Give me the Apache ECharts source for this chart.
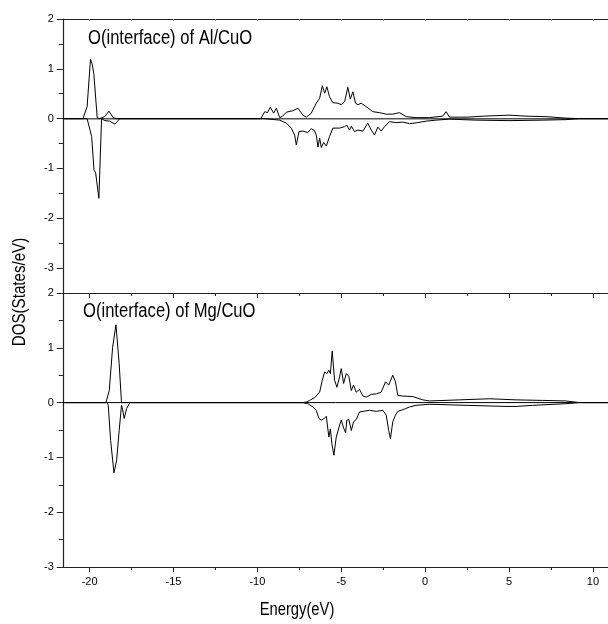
<!DOCTYPE html>
<html>
<head>
<meta charset="utf-8">
<script src="https://cdn.jsdelivr.net/npm/echarts@6/dist/echarts.min.js"></script>
<style>html,body{margin:0;padding:0;background:#fff}#c{width:608px;height:624px}</style>
</head>
<body>
<div id="c"></div>
<script>
// ---- Data ----
var xTickLabels = [-20, -15, -10, -5, 0, 5, 10];
var xMinorTicks = [-17.5, -12.5, -7.5, -2.5, 2.5, 7.5];
var yTickLabels = [-3, -2, -1, 0, 1, 2];
var yMinorTicks = [-2.5, -1.5, -0.5, 0.5, 1.5];

var alUpE = [-21.6,-20.4,-20.15,-19.95,-19.85,-19.75,-19.55,-19.4,-19.1,-18.85,-18.6,-18.4,-9.8,-9.56,-9.4,-9.23,-9.03,-8.87,-8.67,-8.5,-8.27,-7.88,-7.58,-7.29,-7.08,-6.79,-6.49,-6.29,-6.13,-5.99,-5.86,-5.7,-5.5,-5.2,-5.0,-4.8,-4.61,-4.46,-4.31,-4.15,-4.01,-3.81,-3.51,-3.12,-2.72,-2.32,-1.93,-1.53,-1.13,-0.54,0.26,1.05,1.25,1.45,2.5,3.5,5.0,6.0,7.2,8.39,9.2,10.9];
var alUpV = [0,0,0.24,1.19,1.1,0.9,0.02,0,0.04,0.15,0.02,0,0,0.14,0.12,0.23,0.11,0.21,0.02,0.05,0.13,0.16,0.21,0.07,0.03,0.11,0.31,0.41,0.66,0.51,0.64,0.44,0.32,0.31,0.28,0.34,0.63,0.39,0.54,0.31,0.28,0.31,0.24,0.14,0.12,0.09,0.09,0.12,0.04,0.02,0.02,0.05,0.14,0.03,0.03,0.05,0.07,0.05,0.04,0.01,0,0];

var alDownE = [-21.6,-20.15,-19.88,-19.74,-19.64,-19.58,-19.45,-19.29,-19.09,-18.8,-18.49,-18.2,-9.6,-8.67,-8.27,-7.98,-7.78,-7.68,-7.52,-7.29,-7.0,-6.79,-6.6,-6.49,-6.39,-6.29,-6.19,-6.05,-5.89,-5.7,-5.5,-5.1,-4.8,-4.67,-4.51,-4.4,-4.21,-4.01,-3.71,-3.42,-3.21,-3.02,-2.82,-2.62,-2.42,-2.13,-1.73,-1.33,-0.93,-0.44,0.06,0.65,1.45,3.0,5.0,7.0,8.4,9.2,10.9];
var alDownV = [0,0,-0.36,-1.03,-1.09,-1.06,-1.6,0,-0.04,-0.05,-0.11,0,0,-0.03,-0.09,-0.19,-0.33,-0.53,-0.26,-0.25,-0.28,-0.2,-0.24,-0.33,-0.57,-0.39,-0.58,-0.48,-0.55,-0.36,-0.19,-0.19,-0.16,-0.13,-0.23,-0.15,-0.26,-0.23,-0.25,-0.09,-0.23,-0.33,-0.17,-0.25,-0.16,-0.06,-0.08,-0.07,-0.1,-0.08,-0.05,-0.03,-0.01,-0.03,-0.04,-0.03,-0.02,0,0];

var mgUpE = [-21.6,-19.03,-18.83,-18.63,-18.43,-18.24,-18.1,-7.3,-7.08,-6.89,-6.59,-6.29,-6.13,-5.99,-5.86,-5.74,-5.65,-5.54,-5.4,-5.26,-5.1,-5.0,-4.86,-4.7,-4.55,-4.4,-4.27,-4.11,-3.91,-3.71,-3.51,-3.21,-2.92,-2.62,-2.36,-2.17,-1.93,-1.77,-1.63,-1.33,-0.74,-0.14,0.26,2.04,3.83,5.42,7.0,8.39,9.18,10.9];
var mgUpV = [0,0,0.22,1.01,1.42,0.71,0,0,0.01,0.04,0.09,0.19,0.41,0.56,0.53,0.59,0.53,0.94,0.41,0.28,0.47,0.62,0.35,0.53,0.48,0.22,0.32,0.19,0.24,0.12,0.1,0.15,0.16,0.19,0.38,0.32,0.5,0.38,0.13,0.12,0.11,0.05,0.03,0.05,0.07,0.05,0.04,0.03,0,0];

var mgDownE = [-21.6,-18.95,-18.89,-18.75,-18.55,-18.39,-18.24,-18.1,-18.04,-17.94,-17.8,-17.6,-7.3,-6.99,-6.69,-6.49,-6.33,-6.19,-6.05,-5.89,-5.74,-5.65,-5.56,-5.44,-5.3,-5.1,-5.0,-4.86,-4.74,-4.67,-4.55,-4.4,-4.27,-4.11,-3.91,-3.71,-3.31,-2.92,-2.52,-2.32,-2.17,-2.07,-1.93,-1.77,-1.63,-1.43,-1.17,-0.93,-0.54,0.26,2.44,4.82,5.42,6.4,8.39,9.18,10.9];
var mgDownV = [0,0,-0.05,-0.69,-1.28,-1.05,-0.51,-0.05,-0.12,-0.29,-0.11,0,0,-0.02,-0.08,-0.14,-0.29,-0.32,-0.3,-0.25,-0.63,-0.48,-0.75,-0.96,-0.63,-0.41,-0.32,-0.46,-0.55,-0.32,-0.31,-0.51,-0.35,-0.31,-0.17,-0.16,-0.14,-0.16,-0.14,-0.23,-0.51,-0.66,-0.35,-0.23,-0.16,-0.14,-0.11,-0.08,-0.05,-0.03,-0.05,-0.07,-0.07,-0.05,-0.02,0,0];

var panelLabels = ['O(interface) of Al/CuO', 'O(interface) of Mg/CuO'];
var xName = 'Energy(eV)';
var yName = 'DOS(States/eV)';

// ---- Chart ----
function zip(a, b) { return a.map(function (x, i) { return [x, b[i]]; }); }
var FONT = '"Liberation Sans", Arial, sans-serif';
var AX = '#222';
var XMIN = -21.6, XMAX = 10.9;

function xAxes(gi, showLabels) {
  return [
    { gridIndex: gi, type: 'value', min: XMIN, max: XMAX, position: 'bottom',
      axisLine: { show: true, onZero: false, lineStyle: { color: AX, width: 1.2 } },
      axisTick: { show: true, inside: false, length: 5, customValues: xTickLabels, lineStyle: { color: AX } },
      axisLabel: { show: showLabels, customValues: xTickLabels, margin: 9, color: '#000', fontSize: 11, fontFamily: FONT },
      splitLine: { show: false } },
    { gridIndex: gi, type: 'value', min: XMIN, max: XMAX, position: 'bottom', offset: 0,
      axisLine: { show: false, onZero: false },
      axisTick: { show: true, inside: false, length: 3, customValues: xMinorTicks, lineStyle: { color: AX } },
      axisLabel: { show: false }, splitLine: { show: false } },
    { gridIndex: gi, type: 'value', min: XMIN, max: XMAX, position: 'top', offset: 0,
      axisLine: { show: gi === 0, onZero: false, lineStyle: { color: AX, width: 1.2 } },
      axisTick: { show: gi === 0, inside: true, length: 2, customValues: xTickLabels.concat(xMinorTicks), lineStyle: { color: '#999' } },
      axisLabel: { show: false }, splitLine: { show: false } }
  ];
}
function yAxes(gi, ymin) {
  return [
    { gridIndex: gi, type: 'value', min: ymin, max: 2, position: 'left',
      axisLine: { show: true, onZero: false, lineStyle: { color: AX, width: 1.2 } },
      axisTick: { show: true, inside: false, length: 6, customValues: yTickLabels, lineStyle: { color: AX } },
      axisLabel: { show: true, customValues: yTickLabels, margin: 9, color: '#000', fontSize: 11, fontFamily: FONT },
      splitLine: { show: false } },
    { gridIndex: gi, type: 'value', min: ymin, max: 2, position: 'left', offset: 0,
      axisLine: { show: false, onZero: false },
      axisTick: { show: true, inside: false, length: 4, customValues: yMinorTicks, lineStyle: { color: AX } },
      axisLabel: { show: false }, splitLine: { show: false } }
  ];
}
function line(name, xi, yi, data) {
  return { name: name, type: 'line', xAxisIndex: xi, yAxisIndex: yi, data: data,
    showSymbol: false, symbol: 'none', smooth: false, animation: false,
    lineStyle: { color: '#000', width: 1 }, z: 3 };
}
function zeroLine(xi, yi, color, width) {
  return { type: 'line', xAxisIndex: xi, yAxisIndex: yi, data: [[XMIN, 0], [XMAX, 0]],
    showSymbol: false, symbol: 'none', animation: false, silent: true,
    lineStyle: { color: color, width: width }, z: 2 };
}

var chart = echarts.init(document.getElementById('c'), null, { renderer: 'canvas' });
chart.setOption({
  animation: false,
  backgroundColor: '#fff',
  grid: [
    { left: 62.8, width: 546, top: 19, height: 274 },
    { left: 62.8, width: 546, top: 293, height: 274 }
  ],
  xAxis: xAxes(0, false).concat(xAxes(1, true)),
  yAxis: yAxes(0, -3.5).concat(yAxes(1, -3)),
  series: [
    zeroLine(0, 0, '#555', 1.5),
    line('Al up', 0, 0, zip(alUpE, alUpV)),
    line('Al down', 0, 0, zip(alDownE, alDownV)),
    zeroLine(3, 2, '#000', 1),
    line('Mg up', 3, 2, zip(mgUpE, mgUpV)),
    line('Mg down', 3, 2, zip(mgDownE, mgDownV))
  ],
  graphic: [
    { type: 'text', x: 88, y: 38, scaleX: 0.83, style: { text: panelLabels[0], fontSize: 20, fontFamily: FONT, fill: '#000', textAlign: 'left', textVerticalAlign: 'middle' } },
    { type: 'text', x: 83, y: 311, scaleX: 0.83, style: { text: panelLabels[1], fontSize: 20, fontFamily: FONT, fill: '#000', textAlign: 'left', textVerticalAlign: 'middle' } },
    { type: 'text', x: 297, y: 610, scaleX: 0.82, style: { text: xName, fontSize: 18, fontFamily: FONT, fill: '#000', textAlign: 'center', textVerticalAlign: 'middle' } },
    { type: 'text', x: 20, y: 292, rotation: Math.PI / 2, scaleX: 0.84, style: { text: yName, fontSize: 18, fontFamily: FONT, fill: '#000', textAlign: 'center', textVerticalAlign: 'middle' } }
  ]
});
</script>
</body>
</html>
